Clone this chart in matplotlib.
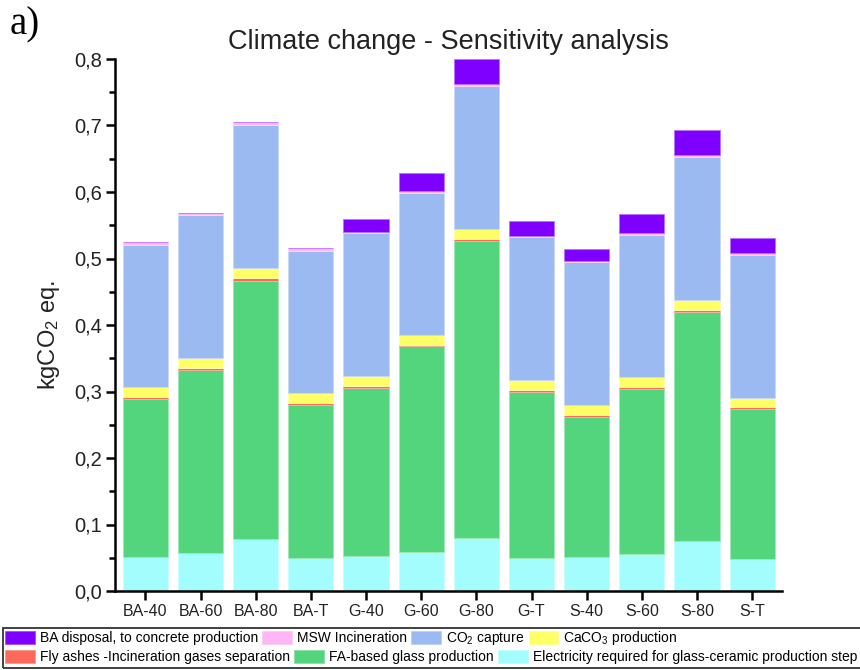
import matplotlib
matplotlib.use('Agg')
import matplotlib.pyplot as plt
import numpy as np
from matplotlib.patches import Patch, Rectangle
from matplotlib.colors import to_rgb

plt.rcParams['font.family'] = ['Liberation Sans', 'DejaVu Sans']
plt.rcParams['mathtext.default'] = 'regular'

scenarios = ['BA-40', 'BA-60', 'BA-80', 'BA-T', 'G-40', 'G-60', 'G-80', 'G-T',
             'S-40', 'S-60', 'S-80', 'S-T']

# stacked contributions, kgCO2 eq. (bottom to top)
electricity = [0.051, 0.057, 0.078, 0.049, 0.052, 0.059, 0.080, 0.049, 0.051, 0.055, 0.075, 0.048]
fa_glass    = [0.238, 0.276, 0.388, 0.231, 0.254, 0.309, 0.447, 0.251, 0.211, 0.249, 0.345, 0.225]
fly_ashes   = [0.003, 0.002, 0.004, 0.002, 0.003, 0.002, 0.003, 0.003, 0.002, 0.003, 0.003, 0.003]
caco3       = [0.015, 0.016, 0.015, 0.016, 0.015, 0.015, 0.015, 0.015, 0.016, 0.015, 0.015, 0.014]
co2_capture = [0.214, 0.214, 0.215, 0.214, 0.214, 0.214, 0.215, 0.214, 0.214, 0.214, 0.214, 0.216]
msw_incin   = [0.004, 0.004, 0.006, 0.004, 0.002, 0.002, 0.003, 0.002, 0.002, 0.003, 0.004, 0.002]
ba_disposal = [0.000, 0.000, 0.000, 0.000, 0.020, 0.028, 0.037, 0.022, 0.019, 0.028, 0.037, 0.023]

labels = {
    'ba': 'BA disposal, to concrete production',
    'msw': 'MSW Incineration',
    'co2': 'CO$_2$ capture',
    'caco3': 'CaCO$_3$ production',
    'fly': 'Fly ashes -Incineration gases separation',
    'fa': 'FA-based glass production',
    'elec': 'Electricity required for glass-ceramic production step',
}
colors = {
    'ba': '#8000ff', 'msw': '#ffb6f4', 'co2': '#9bbaf1', 'caco3': '#ffff66',
    'fly': '#fd6a5c', 'fa': '#52d57c', 'elec': '#a3fdfd',
}

stack = [('elec', electricity), ('fa', fa_glass), ('fly', fly_ashes), ('caco3', caco3),
         ('co2', co2_capture), ('msw', msw_incin), ('ba', ba_disposal)]


def lighter(c, f=0.45):
    r, g, b = to_rgb(c)
    return (r + (1 - r) * f, g + (1 - g) * f, b + (1 - b) * f)


fig = plt.figure(figsize=(8.6, 6.7), dpi=100)
ax = fig.add_axes([115 / 860, 1 - 591 / 670, 667 / 860, 532 / 670])

x = np.arange(len(scenarios))
bottom = np.zeros(len(scenarios))
for key, vals in stack:
    vals = np.array(vals)
    ax.bar(x, vals, width=0.82, bottom=bottom, color=colors[key],
           edgecolor=lighter(colors[key]), linewidth=0.6)
    bottom += vals

ax.set_xlim(-0.55, len(scenarios) - 0.46)
ax.set_ylim(0, 0.8)
ax.set_xticks(x)
ax.set_xticklabels(scenarios, fontsize=11.5, color='#222222')
yt = np.arange(0, 0.81, 0.1)
ax.set_yticks(yt)
ax.set_yticklabels([f'{v:.1f}'.replace('.', ',') for v in yt], fontsize=14.5, color='#222222')
ax.set_yticks(np.arange(0.05, 0.8, 0.1), minor=True)

for s in ['top', 'right']:
    ax.spines[s].set_visible(False)
for s in ['left', 'bottom']:
    ax.spines[s].set_linewidth(1.8)
ax.tick_params(axis='both', which='major', direction='out', length=6.5, width=1.8, pad=2.5)
ax.tick_params(axis='y', which='minor', direction='out', length=4, width=1.8)

ax.set_title('Climate change - Sensitivity analysis', fontsize=19.5, pad=7, color='#222222')
ax.set_ylabel('kgCO$_2$ eq.', fontsize=17, color='#222222')
ax.yaxis.set_label_coords(-0.08, 0.48)

fig.text(0.011, 0.963, 'a)', family=['Liberation Serif', 'DejaVu Serif'], fontsize=28, va='center')

# legend laid out in two rows inside one box
legfont = dict(family=['Liberation Sans', 'DejaVu Sans'], size=10)
rows = [['ba', 'msw', 'co2', 'caco3'], ['fly', 'fa', 'elec']]
tops = [629, 650]
for keys, top in zip(rows, tops):
    handles = [Patch(facecolor=colors[k], edgecolor=lighter(colors[k], 0.3), linewidth=0.6) for k in keys]
    fig.legend(handles, [labels[k] for k in keys], ncol=len(keys), loc='upper left',
               bbox_to_anchor=(5 / 860, 1 - top / 670), frameon=False, prop=legfont,
               borderpad=0, borderaxespad=0, handlelength=2.15, handleheight=1.1,
               handletextpad=0.36, columnspacing=0.3)

fig.add_artist(Rectangle((3 / 860, 2 / 670), 870 / 860, 40 / 670,
                         transform=fig.transFigure, fill=False, edgecolor='#333333', linewidth=1.3))

fig.savefig('out.png', dpi=100)
